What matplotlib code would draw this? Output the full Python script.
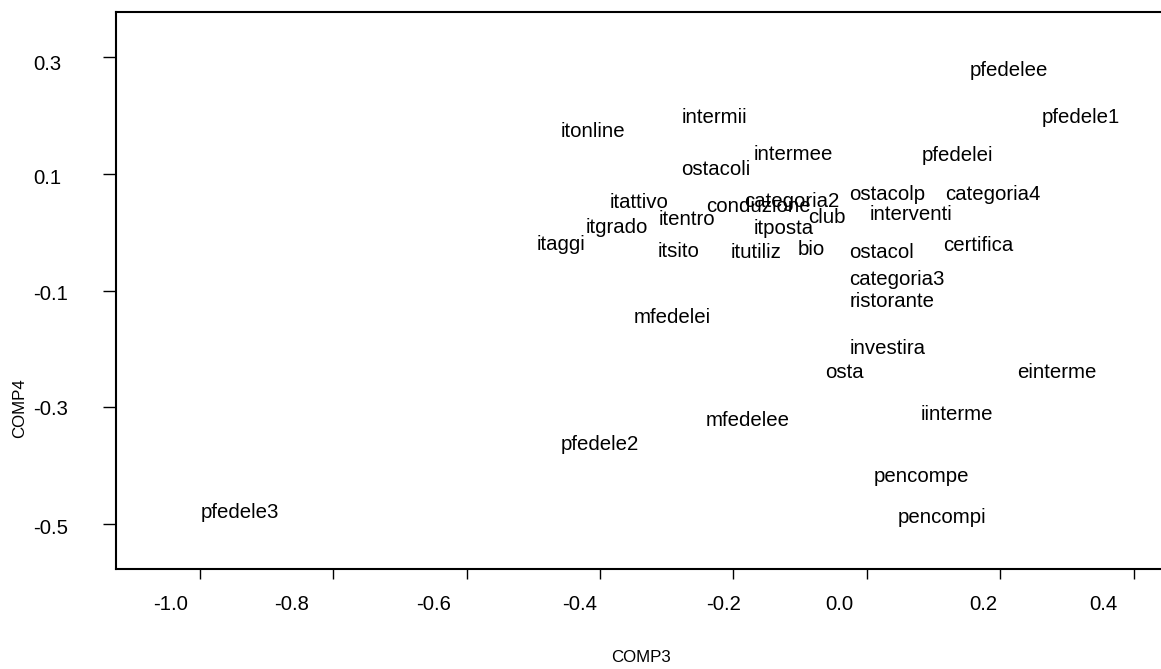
import matplotlib
matplotlib.use("Agg")
import matplotlib.pyplot as plt
from matplotlib.transforms import ScaledTranslation

# ---- data (label anchor = left edge / baseline) ----
labels = ["pfedelee", "pfedele1", "itonline", "intermii", "intermee", "pfedelei",
          "ostacoli", "ostacolp", "categoria4", "itattivo", "categoria2", "conduzione",
          "interventi", "club", "itentro", "itgrado", "itposta", "itaggi", "certifica",
          "itsito", "itutiliz", "bio", "ostacol", "categoria3", "ristorante", "mfedelei",
          "investira", "osta", "einterme", "iinterme", "mfedelee", "pfedele2",
          "pencompe", "pencompi", "pfedele3"]
comp3 = [0.1535, 0.2621, -0.4587, -0.2777, -0.1703, 0.0822,
         -0.2788, -0.0264, 0.1171, -0.3863, -0.1838, -0.2413,
         0.0046, -0.0888, -0.3128, -0.4212, -0.1703, -0.4951, 0.1146,
         -0.3137, -0.2042, -0.1044, -0.0264, -0.0264, -0.0264, -0.3503,
         -0.0264, -0.0628, 0.2255, 0.0811, -0.2417, -0.4587,
         0.0096, 0.0456, -0.9985]
comp4 = [0.2679, 0.1879, 0.1639, 0.1868, 0.1239, 0.1227,
         0.0982, 0.0554, 0.0554, 0.0411, 0.0428, 0.0353,
         0.0216, 0.0164, 0.0125, -0.0017, -0.0029, -0.0304, -0.0316,
         -0.0418, -0.0446, -0.0389, -0.0446, -0.0912, -0.1276, -0.1550,
         -0.2087, -0.2493, -0.2493, -0.3218, -0.3316, -0.3732,
         -0.4276, -0.4989, -0.4903]

xticks = [-1.0, -0.8, -0.6, -0.4, -0.2, 0.0, 0.2, 0.4]
xticklabels = ["-1.0", "-0.8", "-0.6", "-0.4", "-0.2", "0.0", "0.2", "0.4"]
yticks = [0.3, 0.1, -0.1, -0.3, -0.5]
yticklabels = ["0.3", "0.1", "-0.1", "-0.3", "-0.5"]
xlabel_text = "COMP3"
ylabel_text = "COMP4"

# ---- styling / layout ----
xtick_label_shift_px = [-29.2, -41.9, -33.3, -20.3, -9.7, -27.7, -17.3, -30.7]
ytick_label_shift_px = [7.7, 5.0, 3.6, 2.0, 5.0]

plt.rcParams['font.family'] = ['Liberation Sans', 'DejaVu Sans']
fig = plt.figure(figsize=(11.61, 6.69), dpi=100)
ax = fig.add_axes([0.09966, 0.14903, 0.9046, 0.8335])
ax.set_xlim(-1.1264, 0.4485)
ax.set_ylim(-0.5778, 0.3782)

for lab, x, y in zip(labels, comp3, comp4):
    ax.text(x, y, lab, ha='left', va='baseline', fontsize=14.7, color='black')

for s in ax.spines.values():
    s.set_linewidth(1.5)
    s.set_color('black')

ax.set_xticks(xticks)
ax.set_xticklabels(xticklabels, fontsize=14.6)
ax.set_yticks(yticks)
ax.set_yticklabels(yticklabels, fontsize=14.6, ha='left', va='center')
ax.tick_params(axis='x', direction='out', length=7.2, width=1.0, pad=11.0)
ax.tick_params(axis='y', direction='out', length=9.1, width=1.0, pad=0)

for lab, dx in zip(ax.get_xticklabels(), xtick_label_shift_px):
    lab.set_transform(lab.get_transform() + ScaledTranslation(dx / 100, 0, fig.dpi_scale_trans))
for lab, dy in zip(ax.get_yticklabels(), ytick_label_shift_px):
    lab.set_transform(lab.get_transform() + ScaledTranslation(-69.7 / 100, -dy / 100, fig.dpi_scale_trans))

ax.set_xlabel(xlabel_text, fontsize=12.2, va='center')
ax.xaxis.set_label_coords(0.5, -0.1573)
ax.set_ylabel(ylabel_text, fontsize=12.2, va='center')
ax.yaxis.set_label_coords(-0.0911, 0.2893)

fig.savefig("out.png", dpi=100, facecolor='white')
